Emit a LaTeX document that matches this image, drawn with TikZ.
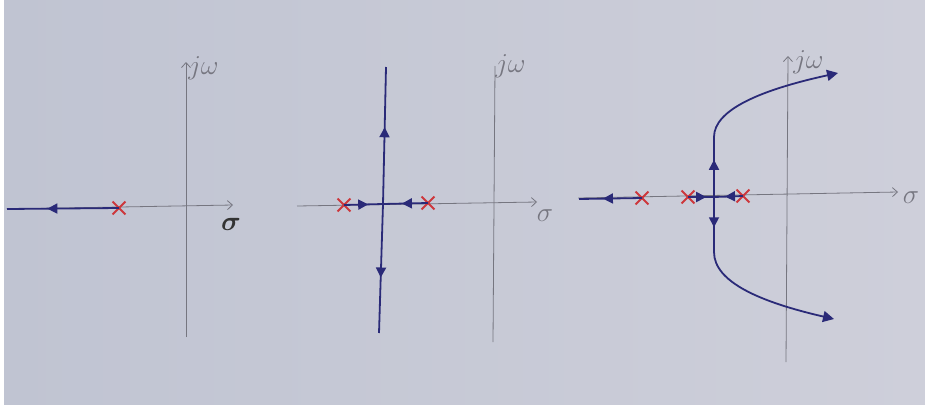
\documentclass[tikz,border=0pt]{standalone}
\usepackage{amsmath,bm}
\usetikzlibrary{arrows.meta,decorations.markings,shapes.misc}
\definecolor{paperL}{RGB}{192,196,210}
\definecolor{paperR}{RGB}{206,207,218}
\definecolor{locus}{RGB}{42,42,120}
\definecolor{polered}{RGB}{205,55,60}
\definecolor{axisgrey}{RGB}{118,118,128}
\tikzset{
  axis/.style={draw=axisgrey, line width=0.8pt},
  axistip/.style={-{Straight Barb[length=5pt,width=9pt,line width=0.8pt]}},
  branch/.style={draw=locus, line width=1.8pt},
  pole/.style={cross out, draw=polered, line width=1.8pt, minimum size=11pt, inner sep=0pt},
  midarrow/.style={postaction={decorate}, decoration={markings,
     mark=at position #1 with {\arrow{Triangle[length=10pt,width=10pt]}}}},
  endarrow/.style={-{Triangle[length=11pt,width=11pt]}},
  lab/.style={text=axisgrey, font=\Huge, scale=1.1, inner sep=1pt},
}
\begin{document}
\begin{tikzpicture}[x=1pt,y=-1pt]
\useasboundingbox (0,0) rectangle (925,407);
\fill[white] (0,0) rectangle (925,407);
\shade[left color=paperL, right color=paperR] (4,0) rectangle (925,404);

% ---------- panel 1 ----------
\coordinate (h1s) at (7,209);
\coordinate (h1e) at (233,205);
\coordinate (v1s) at (186,337);
\coordinate (v1e) at (186,62);
\draw[axis,axistip] (h1s) -- (h1e);
\draw[axis,axistip] (v1s) -- (v1e);
\node[lab, anchor=west] (w1) at (187,68) {$j\omega$};
\node[lab, text=black!80] (s1) at (231,224) {$\bm{\sigma}$};
\node[pole] (p1) at (119,208) {};
\coordinate (l1) at (7,209);
\draw[branch, midarrow=0.64] (p1.center) -- (l1);

% ---------- panel 2 ----------
\coordinate (h2s) at (297,206);
\coordinate (h2e) at (537,202);
\coordinate (v2s) at (493,342);
\coordinate (v2e) at (495,66);
\draw[axis,axistip] (h2s) -- (h2e);
\draw[axis] (v2s) -- (v2e);
\node[lab, anchor=west] (w2) at (494,66) {$j\omega$};
\node[lab] (s2) at (545,216) {$\sigma$};
\node[pole] (p2a) at (344,205) {};
\node[pole] (p2b) at (428,203) {};
\coordinate (b2) at (383,204);
\coordinate (t2) at (386,67);
\coordinate (d2) at (379,333);
\draw[branch, midarrow=0.62] (p2a.center) -- (b2);
\draw[branch, midarrow=0.58] (p2b.center) -- (b2);
\draw[branch, midarrow=0.56] (b2) -- (t2);
\draw[branch, midarrow=0.57] (b2) -- (d2);

% ---------- panel 3 ----------
\coordinate (h3s) at (578,198);
\coordinate (h3e) at (898,192);
\coordinate (v3s) at (786,362);
\coordinate (v3e) at (788,56);
\draw[axis,axistip] (h3s) -- (h3e);
\draw[axis,axistip] (v3s) -- (v3e);
\node[lab, anchor=west] (w3) at (792,62) {$j\omega$};
\node[lab] (s3) at (911,198) {$\sigma$};
\node[pole] (p3a) at (642,198) {};
\node[pole] (p3b) at (688,197) {};
\node[pole] (p3c) at (743,196) {};
\coordinate (l3) at (579,199);
\coordinate (b3) at (714,197);
\coordinate (u3) at (714,137);
\coordinate (d3) at (714,252);
\coordinate (ue3) at (838,73);
\coordinate (de3) at (834,319);
\draw[branch, midarrow=0.62] (p3a.center) -- (l3);
\draw[branch, midarrow=0.7] (p3b.center) -- (b3);
\draw[branch, midarrow=0.62] (p3c.center) -- (b3);
\draw[branch, midarrow=0.62] (b3) -- (u3);
\draw[branch, midarrow=0.55] (b3) -- (d3);
\draw[branch, endarrow] (u3) .. controls (714,110) and (760,90) .. (ue3);
\draw[branch, endarrow] (d3) .. controls (714,282) and (760,302) .. (de3);
\end{tikzpicture}
\end{document}
